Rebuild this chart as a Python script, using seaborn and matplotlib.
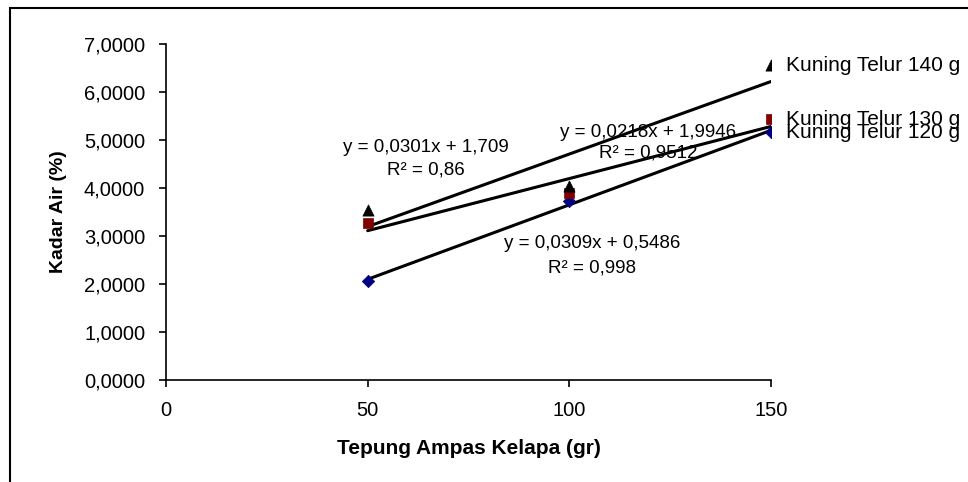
import numpy as np
import pandas as pd
import seaborn as sns
import matplotlib.pyplot as plt
from matplotlib.ticker import FuncFormatter
from matplotlib.patches import Rectangle

# --- data ---
tepung = [50, 100, 150]
kuning_120 = [2.06, 3.72, 5.16]
kuning_130 = [3.26, 3.89, 5.43]
kuning_140 = [3.53, 4.03, 6.55]
series_names = ['Kuning Telur 120 g', 'Kuning Telur 130 g', 'Kuning Telur 140 g']
equations = ['y = 0,0309x + 0,5486', 'y = 0,0218x + 1,9946', 'y = 0,0301x + 1,709']
r_squared = ['R² = 0,998', 'R² = 0,9512', 'R² = 0,86']

df = pd.DataFrame({
    'Tepung': tepung * 3,
    'Kadar': kuning_120 + kuning_130 + kuning_140,
    'Seri': np.repeat(series_names, len(tepung)),
})

sns.set_style('white')
plt.rcParams['font.family'] = ['Liberation Sans', 'DejaVu Sans']
plt.rcParams['text.color'] = 'black'
plt.rcParams['axes.labelcolor'] = 'black'

fig = plt.figure(figsize=(9.68, 4.82), dpi=100)
ax = fig.add_axes([0.1715, 0.2116, 0.625, 0.6977])

colors = {'Kuning Telur 120 g': '#000080', 'Kuning Telur 130 g': '#800000',
          'Kuning Telur 140 g': '#000000'}
markers = {'Kuning Telur 120 g': 'D', 'Kuning Telur 130 g': 's',
           'Kuning Telur 140 g': '^'}
sizes = {'Kuning Telur 120 g': 40, 'Kuning Telur 130 g': 55, 'Kuning Telur 140 g': 65}

for name in series_names:
    sub = df[df['Seri'] == name]
    sns.scatterplot(data=sub, x='Tepung', y='Kadar', marker=markers[name],
                    color=colors[name], s=sizes[name], edgecolor=colors[name],
                    linewidth=0.5, ax=ax, zorder=3, legend=False)
    # linear trendline
    sns.regplot(data=sub, x='Tepung', y='Kadar', scatter=False, ci=None,
                truncate=True, color='black', line_kws={'linewidth': 2.2},
                ax=ax)
    # series name label next to the last point
    ax.annotate(name, (sub['Tepung'].iloc[-1], sub['Kadar'].iloc[-1]),
                xytext=(11, 0), textcoords='offset points', va='center',
                ha='left', fontsize=15, annotation_clip=False)

# trendline equations
eq_pos = [(105.6, 2.85, 2.33), (119.5, 5.16, 4.72), (64.5, 4.84, 4.37)]
for eq, r2, (xp, ye, yr) in zip(equations, r_squared, eq_pos):
    ax.text(xp, ye, eq, ha='center', va='center', fontsize=13.5)
    ax.text(xp, yr, r2, ha='center', va='center', fontsize=13.5)

ax.set_xlim(0, 150)
ax.set_ylim(0, 7)
ax.set_xticks([0, 50, 100, 150])
ax.set_yticks(np.arange(0, 8, 1))
ax.yaxis.set_major_formatter(FuncFormatter(lambda v, p: f'{v:.4f}'.replace('.', ',')))
ax.tick_params(axis='both', direction='out', length=5, width=1.2, labelsize=14.5,
               colors='black', left=True, bottom=True, pad=10)
ax.tick_params(axis='x', pad=10)
sns.despine(ax=ax)
for side in ['left', 'bottom']:
    ax.spines[side].set_linewidth(1.2)
    ax.spines[side].set_color('black')

ax.set_xlabel('Tepung Ampas Kelapa (gr)', fontsize=15, fontweight='bold', labelpad=14)
ax.set_ylabel('Kadar Air (%)', fontsize=14, fontweight='bold', labelpad=12)

# outer chart frame (top and left edges visible)
fig.add_artist(Rectangle((10 / 968, -0.2), 1.2, 1.2 - 8 / 482, transform=fig.transFigure,
                         fill=False, edgecolor='black', linewidth=1.5, clip_on=False))

fig.savefig('out.png', dpi=100)
